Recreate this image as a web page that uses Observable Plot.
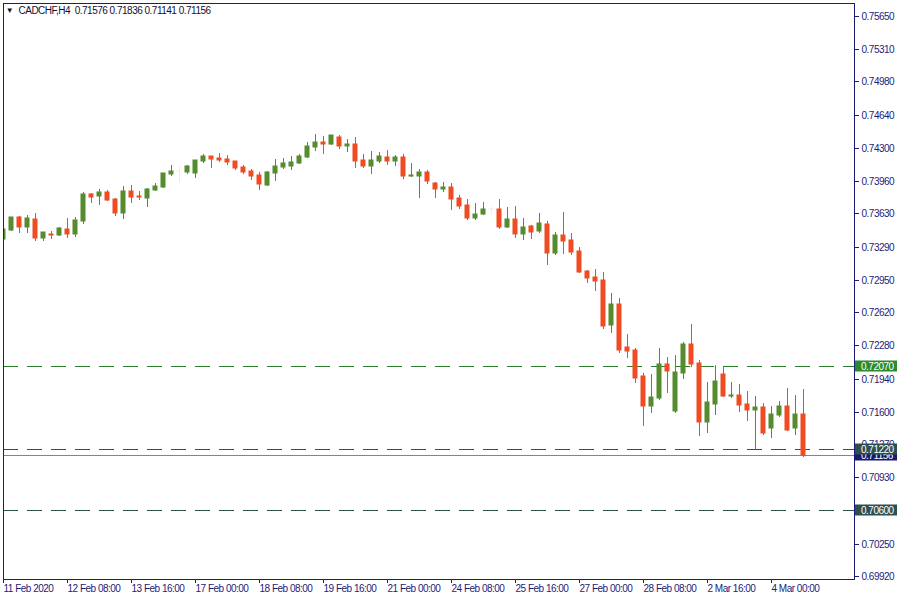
<!DOCTYPE html>
<html>
<head>
<meta charset="utf-8">
<script src="https://cdn.jsdelivr.net/npm/d3@7"></script>
<script src="https://cdn.jsdelivr.net/npm/@observablehq/plot@0.6"></script>
<style>
  html, body { margin: 0; padding: 0; background: #fff; overflow: hidden; }
  #chart svg { display: block; }
</style>
</head>
<body>
<div id="chart"></div>
<script>
// ---- data (CADCHF H4) ----
const symbol = "CADCHF";
const period = "H4";
const open = [0.73368,0.73460,0.73593,0.73491,0.73573,0.73378,0.73419,0.73409,0.73471,0.73419,
  0.73552,0.73829,0.73808,0.73849,0.73777,0.73634,0.73859,0.73808,0.73788,0.73870,
  0.73900,0.74033,0.74064,0.74054,0.74044,0.74166,0.74217,0.74197,0.74187,0.74166,
  0.74105,0.74064,0.74023,0.73921,0.74044,0.74105,0.74115,0.74146,0.74207,0.74310,
  0.74361,0.74340,0.74412,0.74320,0.74340,0.74177,0.74115,0.74166,0.74207,0.74166,
  0.74207,0.74013,0.74013,0.74054,0.73941,0.73880,0.73900,0.73788,0.73716,0.73583,
  0.73624,0.73675,0.73675,0.73491,0.73573,0.73419,0.73501,0.73450,0.73522,0.73225,
  0.73409,0.73358,0.73246,0.73041,0.72979,0.72949,0.72488,0.72703,0.72263,0.72233,
  0.71967,0.71660,0.71741,0.72089,0.71608,0.71997,0.72294,0.72100,0.71496,0.71680,
  0.71987,0.71762,0.71772,0.71680,0.71619,0.71649,0.71434,0.71567,0.71660,0.71434,
  0.71576];
const high = [0.73481,0.73593,0.73604,0.73614,0.73634,0.73440,0.73450,0.73491,0.73583,0.73593,
  0.73849,0.73839,0.73880,0.73870,0.73788,0.73911,0.73921,0.73859,0.73890,0.73941,
  0.74044,0.74125,0.74115,0.74125,0.74177,0.74238,0.74217,0.74248,0.74228,0.74166,
  0.74125,0.74085,0.74054,0.74064,0.74187,0.74197,0.74217,0.74238,0.74361,0.74443,
  0.74422,0.74432,0.74432,0.74391,0.74412,0.74238,0.74269,0.74258,0.74279,0.74228,
  0.74238,0.74146,0.74085,0.74074,0.73951,0.73951,0.73941,0.73818,0.73777,0.73737,
  0.73747,0.73696,0.73777,0.73696,0.73706,0.73583,0.73511,0.73634,0.73552,0.73440,
  0.73644,0.73430,0.73286,0.73051,0.73061,0.73031,0.72816,0.72765,0.72396,0.72253,
  0.71997,0.71987,0.72253,0.72161,0.72181,0.72314,0.72499,0.72130,0.71905,0.72079,
  0.72059,0.71905,0.71885,0.71813,0.71762,0.71690,0.71660,0.71711,0.71844,0.71772,
  0.71836];
const low = [0.73327,0.73450,0.73430,0.73430,0.73348,0.73348,0.73368,0.73399,0.73378,0.73389,
  0.73522,0.73737,0.73716,0.73757,0.73604,0.73573,0.73737,0.73767,0.73696,0.73859,
  0.73890,0.74013,0.73951,0.74033,0.73992,0.74146,0.74095,0.74156,0.74125,0.74074,
  0.74033,0.73972,0.73870,0.73911,0.73962,0.74085,0.74074,0.74136,0.74197,0.74269,
  0.74238,0.74330,0.74289,0.74258,0.74095,0.74095,0.74033,0.74146,0.74125,0.74115,
  0.73982,0.74003,0.73788,0.73931,0.73788,0.73849,0.73665,0.73675,0.73563,0.73563,
  0.73614,0.73624,0.73471,0.73481,0.73378,0.73358,0.73368,0.73430,0.73102,0.73205,
  0.73215,0.73205,0.73020,0.72918,0.72836,0.72447,0.72406,0.72202,0.72151,0.71895,
  0.71455,0.71588,0.71721,0.71793,0.71588,0.71936,0.72059,0.71353,0.71383,0.71567,
  0.71752,0.71741,0.71598,0.71506,0.71209,0.71363,0.71332,0.71547,0.71404,0.71363,
  0.71141];
const close = [0.73471,0.73593,0.73491,0.73583,0.73378,0.73440,0.73409,0.73481,0.73419,0.73563,
  0.73829,0.73798,0.73849,0.73767,0.73634,0.73859,0.73798,0.73798,0.73880,0.73911,
  0.74044,0.74064,0.74064,0.74115,0.74177,0.74217,0.74187,0.74177,0.74156,0.74095,
  0.74054,0.74013,0.73931,0.74054,0.74115,0.74146,0.74156,0.74217,0.74320,0.74361,
  0.74340,0.74432,0.74320,0.74340,0.74166,0.74115,0.74177,0.74217,0.74166,0.74207,
  0.74013,0.74023,0.74054,0.73962,0.73880,0.73900,0.73777,0.73706,0.73583,0.73624,
  0.73675,0.73675,0.73491,0.73573,0.73419,0.73491,0.73440,0.73532,0.73225,0.73409,
  0.73348,0.73235,0.73031,0.72969,0.72939,0.72478,0.72703,0.72233,0.72222,0.71946,
  0.71660,0.71752,0.72089,0.72018,0.72007,0.72294,0.72089,0.71496,0.71700,0.71915,
  0.71762,0.71772,0.71670,0.71619,0.71649,0.71383,0.71578,0.71660,0.71414,0.71578,
  0.71156];
const faintBars = [22, 61];           // bars drawn in a pale tint on the reference
const levels = [0.72070, 0.71220, 0.70600];
const levelKinds = ["upper", "lower", "lower"];
const bid = 0.71156;
const yTicks = [0.75650,0.75310,0.74980,0.74640,0.74300,0.73960,0.73630,0.73290,0.72950,
  0.72620,0.72280,0.71940,0.71600,0.71270,0.70930,0.70590,0.70250,0.69920];
const xTickBars = [0,8,16,24,32,40,48,56,64,72,80,88,96];
const xTickLabels = ["11 Feb 2020","12 Feb 08:00","13 Feb 16:00","17 Feb 00:00","18 Feb 08:00",
  "19 Feb 16:00","21 Feb 00:00","24 Feb 08:00","25 Feb 16:00","27 Feb 00:00","28 Feb 08:00",
  "2 Mar 16:00","4 Mar 00:00"];

// ---- styling ----
const NAVY = "#1c1c78";
const BULL = "#558c2d";
const BEAR = "#f04b23";
const FAINT = "#f5ebdc";
const levelColor = {upper: "#2a7f2a", lower: "#2f4f4f"};
const BIDLINE = "#778899";
const BIDTAG = "#191970";

const bars = open.map((o, i) => ({i, open: o, high: high[i], low: low[i], close: close[i]}));
const barColor = d => faintBars.includes(d.i) ? FAINT : (d.close >= d.open ? BULL : BEAR);
const halfBody = 2.5 / 8; // body half-width in bar units (bars are 8px apart)
const fmt = d3.format(".5f");

const levelData = levels.map((v, k) => ({v, kind: levelKinds[k]}));
const last = bars[bars.length - 1];
const titleText = `${symbol},${period}\u00a0\u00a0${fmt(last.open)} ${fmt(last.high)} ${fmt(last.low)} ${fmt(last.close)}`;

const chart = Plot.plot({
  width: 900,
  height: 600,
  marginLeft: 3,
  marginRight: 46,
  marginTop: 3,
  marginBottom: 21,
  style: {fontFamily: "'Liberation Sans', Arial, sans-serif", fontSize: "10px", color: NAVY, background: "#fff", letterSpacing: "-0.5px"},
  x: {domain: [0, 106.375], axis: null},
  y: {domain: [0.69889, 0.75783], axis: null, round: true},
  marks: [
    Plot.ruleY(levelData, {y: "v", stroke: d => levelColor[d.kind], strokeDasharray: "15,9", strokeWidth: 1}),
    Plot.ruleY([bid], {stroke: BIDLINE, strokeWidth: 1}),
    Plot.ruleX(bars, {x: "i", y1: "low", y2: "high", stroke: barColor, strokeWidth: 1, clip: true}),
    Plot.rect(bars, {x1: d => d.i - halfBody, x2: d => d.i + halfBody, y1: "open", y2: "close",
      fill: barColor, insetTop: -0.5, insetBottom: -0.5, clip: true}),
    Plot.frame({stroke: NAVY}),
    Plot.axisY(yTicks, {anchor: "right", label: null, tickSize: 4, tickPadding: 3, tickFormat: fmt, stroke: NAVY, fill: NAVY}),
    Plot.axisX(xTickBars, {anchor: "bottom", label: null, tickSize: 4, tickPadding: 1, textAnchor: "start",
      tickFormat: d => xTickLabels[xTickBars.indexOf(d)], stroke: NAVY, fill: NAVY}),
    Plot.text(["\u25BC"], {frameAnchor: "top-left", dx: 6, dy: 7, fontSize: 8, textAnchor: "middle", lineAnchor: "middle", fill: "#101030"}),
    Plot.text([titleText], {frameAnchor: "top-left", dx: 15, dy: 7.5, textAnchor: "start", lineAnchor: "middle", fill: "#101030", style: "letter-spacing:0.25px"})
  ]
});

document.getElementById("chart").appendChild(chart);

// ---- price tags on the right price scale, positioned through Plot's y scale ----
const yScale = chart.scale("y");
const svg = d3.select(chart.tagName.toLowerCase() === "svg" ? chart : chart.querySelector("svg"));
const tags = [{v: bid, color: BIDTAG}]
  .concat(levelData.filter(d => d.kind === "lower").map(d => ({v: d.v, color: levelColor.lower})))
  .concat(levelData.filter(d => d.kind === "upper").map(d => ({v: d.v, color: "#2b8a2b"})));
const g = svg.append("g").attr("font-family", "'Liberation Sans', Arial, sans-serif").attr("font-size", 10)
  .attr("text-anchor", "start");
for (const t of tags) {
  const yy = Math.round(yScale.apply(t.v));
  g.append("rect").attr("x", 855).attr("y", yy - 5.5).attr("width", 42).attr("height", 11).attr("fill", t.color);
  g.append("text").attr("x", 861).attr("y", yy).attr("dy", "0.35em").attr("fill", "#fff")
    .attr("text-anchor", "start").style("letter-spacing", "-0.5px").text(fmt(t.v));
}
</script>
</body>
</html>
